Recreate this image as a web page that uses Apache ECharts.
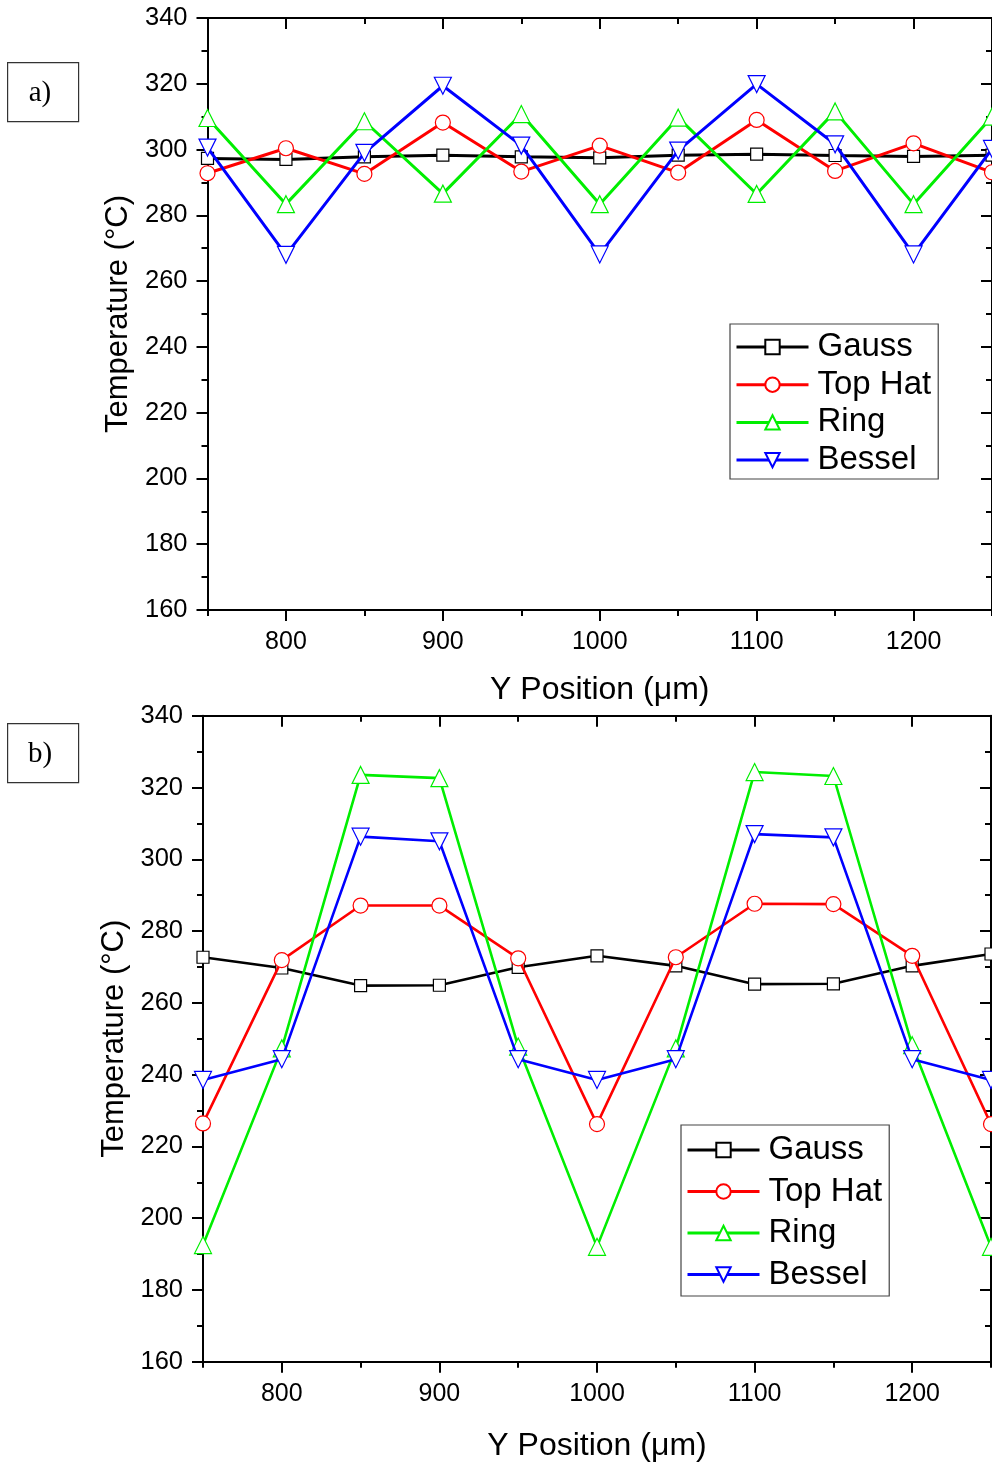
<!DOCTYPE html>
<html>
<head>
<meta charset="utf-8">
<script src="https://cdn.jsdelivr.net/npm/echarts@6/dist/echarts.min.js"></script>
<style>
html,body{margin:0;padding:0;background:#fff;}
#chart{width:992px;height:1466px;}
</style>
</head>
<body>
<div id="chart"></div>
<script>
// ---- data ----
const positions = [750, 800, 850, 900, 950, 1000, 1050, 1100, 1150, 1200, 1250];
const seriesNames = ['Gauss', 'Top Hat', 'Ring', 'Bessel'];

// panel a)
const gaussA  = [297.3, 297.0, 297.8, 298.3, 297.8, 297.5, 298.3, 298.6, 298.2, 297.9, 298.3];
const topHatA = [292.8, 300.4, 292.6, 308.2, 293.3, 301.2, 293.0, 309.0, 293.5, 301.9, 293.1];
const ringA   = [309.6, 283.4, 308.6, 286.6, 310.8, 283.4, 309.7, 286.5, 311.6, 283.4, 310.0];
const besselA = [300.6, 268.0, 299.0, 319.4, 301.2, 268.1, 299.7, 319.9, 301.6, 268.1, 300.2];

// panel b)
const gaussB  = [272.7, 269.7, 264.8, 264.9, 269.9, 273.1, 270.3, 265.2, 265.3, 270.3, 273.6];
const topHatB = [226.4, 271.9, 287.1, 287.1, 272.4, 226.2, 272.7, 287.6, 287.5, 273.1, 226.2];
const ringB   = [192.5, 247.3, 323.5, 322.6, 247.8, 192.0, 247.3, 324.3, 323.2, 248.2, 192.0];
const besselB = [238.5, 244.3, 306.3, 305.0, 244.3, 238.5, 244.3, 307.0, 306.1, 244.3, 238.5];

// ticks
const xMajorTicks = [800, 900, 1000, 1100, 1200];
const xMinorTicks = [750, 850, 950, 1050, 1150, 1250];
const yMin = 160, yMax = 340, yInterval = 20;
const xMin = 750, xMax = 1250;
const xTitle = 'Y Position (μm)';
const yTitle = 'Temperature (°C)';
const panelTitles = ['a)', 'b)'];

// ---- styling ----
const FONT = '"Liberation Sans", Arial, sans-serif';
const colors = ['#000000', '#ff0000', '#00ee00', '#0000ff'];
const symbols = ['rect', 'circle', 'triangle', 'triangle'];
const symbolRot = [0, 0, 0, 180];
const symbolSizes = [12, 15, 17, 17];

function xAxes(gridIndex, nameGap) {
  const common = {
    type: 'value', gridIndex, min: xMin, max: xMax,
    splitLine: {show: false},
    axisLine: {show: true, onZero: false, lineStyle: {color: '#000', width: 2}},
  };
  return [
    Object.assign({}, common, {
      position: 'bottom',
      name: xTitle, nameLocation: 'middle', nameGap,
      nameTextStyle: {fontFamily: FONT, fontSize: 32, color: '#000'},
      axisTick: {show: true, inside: false, length: 11, lineStyle: {width: 2, color: '#000'}, customValues: xMajorTicks},
      axisLabel: {show: true, margin: 20, fontFamily: FONT, fontSize: 25, color: '#000',
                  customValues: xMajorTicks, formatter: v => String(v)},
    }),
    Object.assign({}, common, {
      position: 'bottom',
      axisTick: {show: true, inside: false, length: 6, lineStyle: {width: 2, color: '#000'}, customValues: xMinorTicks},
      axisLabel: {show: false},
    }),
    Object.assign({}, common, {
      position: 'top',
      axisTick: {show: true, inside: true, length: 11, lineStyle: {width: 2, color: '#000'}, customValues: xMajorTicks},
      axisLabel: {show: false},
    }),
    Object.assign({}, common, {
      position: 'top',
      axisTick: {show: true, inside: true, length: 6, lineStyle: {width: 2, color: '#000'}, customValues: xMinorTicks},
      axisLabel: {show: false},
    }),
  ];
}

function yAxes(gridIndex) {
  const common = {
    type: 'value', gridIndex, min: yMin, max: yMax, interval: yInterval,
    splitLine: {show: false}, minorSplitLine: {show: false},
    axisLine: {show: true, onZero: false, lineStyle: {color: '#000', width: 2}},
  };
  return [
    Object.assign({}, common, {
      position: 'left',
      name: yTitle, nameLocation: 'middle', nameGap: 73,
      nameTextStyle: {fontFamily: FONT, fontSize: 31, color: '#000'},
      axisTick: {show: true, inside: false, length: 11, lineStyle: {width: 2, color: '#000'}},
      minorTick: {show: true, splitNumber: 2, length: 6, lineStyle: {width: 2, color: '#000'}},
      axisLabel: {show: true, margin: 20, fontFamily: FONT, fontSize: 25.5, color: '#000', formatter: v => String(v)},
    }),
    Object.assign({}, common, {
      position: 'right',
      axisTick: {show: true, inside: true, length: 11, lineStyle: {width: 2, color: '#000'}},
      minorTick: {show: true, splitNumber: 2, length: 6, lineStyle: {width: 2, color: '#000'}},
      axisLabel: {show: false},
    }),
  ];
}

function makeSeries(valuesList, xAxisIndex, yAxisIndex, lineWidth) {
  return valuesList.map((vals, i) => ({
    type: 'line',
    name: seriesNames[i],
    xAxisIndex, yAxisIndex,
    data: positions.map((p, k) => [p, vals[k]]),
    symbol: symbols[i],
    symbolSize: symbolSizes[i],
    symbolRotate: symbolRot[i],
    showAllSymbol: true,
    clip: true,
    z: 2 + i,
    lineStyle: {color: colors[i], width: lineWidth},
    itemStyle: {color: '#ffffff', borderColor: colors[i], borderWidth: 1.2},
    emphasis: {disabled: true},
  }));
}

function legend(left, top, padT, padB, gap) {
  return {
    orient: 'vertical', left, top,
    data: seriesNames,
    itemWidth: 72, itemHeight: 18, itemGap: gap,
    padding: [padT, 7, padB, 5],
    borderColor: '#444', borderWidth: 1.2,
    backgroundColor: '#fff',
    iconRotate: 'inherit',
    selectedMode: false,
    lineStyle: {width: 3},
    textStyle: {fontFamily: FONT, fontSize: 33, color: '#000', padding: [0, 0, 0, 4]},
  };
}

function panelLabel(txt, x, y) {
  return [
    {type: 'rect', left: x, top: y, shape: {width: 71, height: 59},
     style: {fill: '#fff', stroke: '#333', lineWidth: 1.2}},
    {type: 'text', x: x + 33, y: y + 31,
     style: {text: txt, font: '29px "Liberation Serif", "Times New Roman", serif', fill: '#000',
             align: 'center', verticalAlign: 'middle'}},
  ];
}

const chart = echarts.init(document.getElementById('chart'), null, {renderer: 'canvas'});
chart.setOption({
  animation: false,
  backgroundColor: '#fff',
  grid: [
    {left: 207.5, top: 18, width: 787.5, height: 592},
    {left: 203, top: 715.7, width: 788, height: 646},
  ],
  xAxis: [...xAxes(0, 64), ...xAxes(1, 68)],
  yAxis: [...yAxes(0), ...yAxes(1)],
  legend: [legend(730, 324, 6.5, 2.4, 4.7), legend(681, 1125, 8.5, 5, 8.5)],
  graphic: [...panelLabel(panelTitles[0], 7, 62), ...panelLabel(panelTitles[1], 7, 723)],
  series: [
    ...makeSeries([gaussA, topHatA, ringA, besselA], 0, 0, 3),
    ...makeSeries([gaussB, topHatB, ringB, besselB], 4, 2, 2.6),
  ],
});
</script>
</body>
</html>
